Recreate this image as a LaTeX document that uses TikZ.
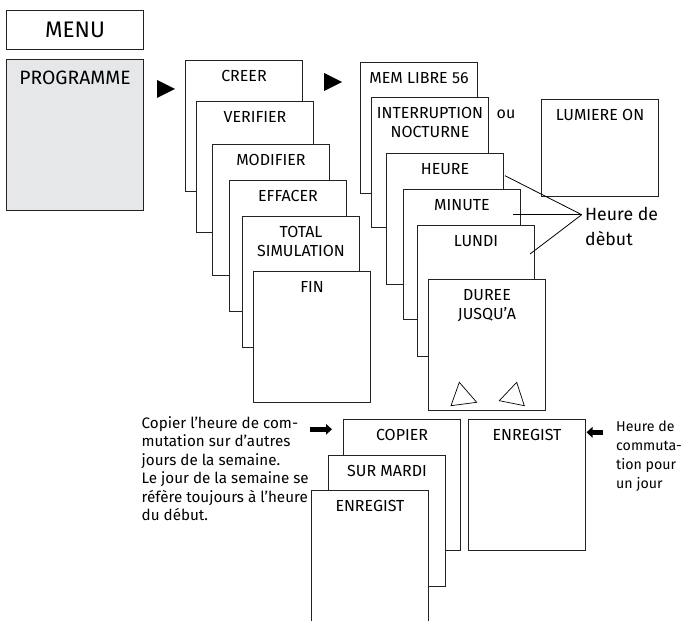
\documentclass[tikz,border=0pt]{standalone}
\usepackage{fontspec}
\setmainfont{Fira Sans}
\usetikzlibrary{arrows.meta}
\definecolor{progfill}{HTML}{E6E7E8}
\definecolor{ink}{HTML}{222222}
\tikzset{
  card/.style={draw=ink, line width=1pt, fill=white, anchor=north west, inner sep=0pt,
    minimum width=117pt, minimum height=131pt},
  lbl/.style={anchor=north, inner sep=0pt, align=center, font=\fontsize{16}{19}\selectfont},
  note/.style={anchor=north west, inner sep=0pt, align=left, font=\fontsize{15.2}{18.4}\selectfont},
  playtri/.style={fill=black, draw=none},
  thin/.style={draw=black, line width=0.8pt},
  fatarrow/.style={line width=4.6pt, -{Triangle[length=6pt,width=10.5pt]}},
}
\begin{document}
\begin{tikzpicture}[x=1pt,y=-1pt]
\useasboundingbox (0,0) rectangle (684,620);
\begin{scope}
\clip (0,0) rectangle (684,620);

% MENU and PROGRAMME
\node[card, minimum width=137pt, minimum height=39pt] (menu) at (6,10) {};
\node[inner sep=0pt, font=\fontsize{22.5}{24}\selectfont] (menut) at (menu.center) {MENU};
\node[card, fill=progfill, minimum width=137pt, minimum height=151pt] (prog) at (6,59) {};
\node[lbl, font=\fontsize{19.3}{22}\selectfont] (progt) at ([yshift=-11.5pt]prog.north) {PROGRAMME};

% play arrows
\fill[playtri] (157,80) -- (175,89) -- (157,98) -- cycle;
\fill[playtri] (324,73) -- (342,82) -- (324,91) -- cycle;

% first stack
\node[card] (creer) at (185,60) {};
\node[lbl] at ([yshift=-10.5pt]creer.north) {CREER};
\node[card] (verif) at (196,101) {};
\node[lbl] at ([yshift=-10.5pt]verif.north) {VERIFIER};
\node[card] (modif) at (212,144) {};
\node[lbl] at ([yshift=-10.5pt]modif.north) {MODIFIER};
\node[card] (effac) at (229,180) {};
\node[lbl] at ([yshift=-10.5pt]effac.north) {EFFACER};
\node[card] (total) at (242,216) {};
\node[lbl] at ([yshift=-10.5pt]total.north) {TOTAL\\SIMULATION};
\node[card] (fin) at (253,271) {};
\node[lbl] at ([yshift=-10.5pt]fin.north) {FIN};

% second stack
\node[card] (mem) at (360,62) {};
\node[lbl] at ([yshift=-10.5pt]mem.north) {MEM LIBRE 56};
\node[card, minimum height=130pt] (inter) at (371,97) {};
\node[lbl] at ([yshift=-10.5pt]inter.north) {INTERRUPTION\\NOCTURNE};
\node[card] (heure) at (386,153) {};
\node[lbl] at ([yshift=-10.5pt]heure.north) {HEURE};
\node[card, minimum height=130pt] (minute) at (403,189) {};
\node[lbl] at ([yshift=-10.5pt]minute.north) {MINUTE};
\node[card] (lundi) at (417,225) {};
\node[lbl] at ([yshift=-10.5pt]lundi.north) {LUNDI};
\node[card] (duree) at (428,279) {};
\node[lbl] at ([yshift=-10.5pt]duree.north) {DUREE\\JUSQU'A};
\draw[thin, line width=0.7pt] (459.3,382.3) -- (476.7,402.3) -- (451,405.7) -- cycle;
\draw[thin, line width=0.7pt] (516.7,382.3) -- (524.3,405.7) -- (499.3,400.7) -- cycle;

\node[inner sep=0pt, font=\fontsize{16}{19}\selectfont] (ou) at (506,114) {ou};
\node[card, minimum height=97pt] (lum) at (541,99) {};
\node[lbl] at ([yshift=-10.5pt]lum.north) {LUMIERE ON};

% Heure de debut
\node[anchor=north west, inner sep=0pt, align=left, font=\fontsize{17.7}{25}\selectfont] (debut) at (585,207.5) {Heure de\\dèbut};
\coordinate (hd) at (581.7,214.7);
\coordinate (h1) at (505,175.7);
\coordinate (h2) at (513.3,214.7);
\coordinate (h3) at (530,254);
\draw[thin] (h1) -- (hd);
\draw[thin] (h2) -- (hd);
\draw[thin] (h3) -- (hd);

% bottom
\node[note] (copnote) at (141.5,416.5) {Copier l’heure de com-\\mutation sur d’autres\\jours de la semaine.\\Le jour de la semaine se\\réfère toujours à l’heure\\du début.};
\node[card] (copier) at (343,419) {};
\node[lbl] at ([yshift=-10.5pt]copier.north) {COPIER};
\node[card] (mardi) at (328,455) {};
\node[lbl] at ([yshift=-10.5pt]mardi.north) {SUR MARDI};
\node[card, minimum height=160pt] (enreg1) at (311,490) {};
\node[lbl] at ([yshift=-10.5pt]enreg1.north) {ENREGIST};
\node[card] (enreg2) at (468,419) {};
\node[lbl] at ([yshift=-10.5pt]enreg2.north) {ENREGIST};

\coordinate (a1s) at (310,429.3);
\coordinate (a1e) at (332,429.3);
\draw[fatarrow] (a1s) -- (a1e);
\coordinate (a2s) at (603,432.3);
\coordinate (a2e) at (586.5,432.3);
\draw[fatarrow] (a2s) -- (a2e);

\node[note, font=\fontsize{14.2}{18.8}\selectfont] (hnote) at (616,421) {Heure de\\commuta-\\tion pour\\un jour};
\end{scope}
\end{tikzpicture}
\end{document}
